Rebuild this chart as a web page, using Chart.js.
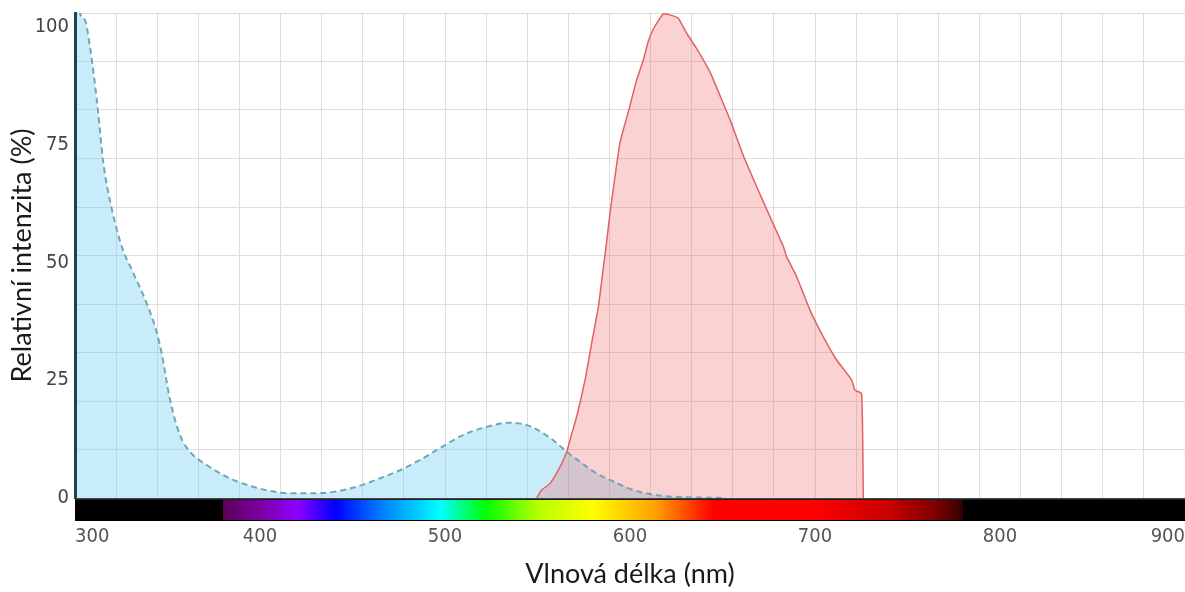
<!DOCTYPE html>
<html><head><meta charset="utf-8">
<script src="https://cdn.jsdelivr.net/npm/chart.js@4/dist/chart.umd.min.js"></script>
<style>html,body{margin:0;padding:0;background:#fff}#wrap{width:1185px;height:592px;position:relative}</style>
</head><body><div id="wrap"><canvas id="c"></canvas></div>
<script>
// Absorption (blue, dashed) spectrum
const blueNm  = [300, 302.7, 305.4, 308.1, 312.4, 315.1, 320, 325.9, 330.8, 339.5, 344.3, 347, 351.4, 356.8, 362.2, 371.2, 382, 392.8, 405.4, 416.2, 428.8, 439.6, 452.3, 464.9, 475.7, 486.5, 497.3, 509.9, 522.5, 535, 542, 548, 554, 560, 565.8, 573, 582, 591, 601.8, 614.4, 630.6, 646.8, 652];
const blueVal = [112, 103, 101.5, 95.8, 82.4, 71.8, 61.2, 52.7, 48.4, 40.6, 35.0, 30.4, 20.8, 13.3, 9.8, 7.0, 4.5, 2.8, 1.5, 1.0, 1.0, 1.3, 2.4, 4.2, 5.9, 8.1, 10.6, 13.4, 15.1, 16.0, 15.7, 14.9, 13.5, 11.8, 9.8, 7.7, 5.2, 3.5, 1.7, 0.6, 0.15, 0.05, 0];
// Emission (red) spectrum
const redNm  = [549.6, 552.2, 556.8, 562.2, 565.8, 568.5, 571.2, 575.7, 579.3, 582.9, 585.2, 587.4, 589.2, 594.6, 599.1, 603.6, 607.2, 609.9, 612.6, 618, 621.6, 626.1, 630.6, 636.1, 643.2, 648.6, 654.1, 661.2, 668.5, 675.7, 682.9, 684.7, 690.1, 697.3, 704.5, 711.7, 719.8, 721.6, 725.2, 726.1];
const redVal = [0, 1.7, 3.1, 6.6, 9.8, 13.7, 17.3, 25.1, 32.9, 40.6, 47.7, 54.5, 60.5, 75.5, 82.0, 88.8, 93.0, 97.0, 99.6, 102.8, 102.6, 101.9, 98.7, 95.4, 90.5, 85.5, 80.3, 72.8, 66.1, 59.7, 53.4, 51.2, 47.0, 39.9, 34.2, 29.3, 25.1, 22.9, 22.2, 0];
// Tick labels
const xTickValues = [300, 400, 500, 600, 700, 800, 900];
const yTickValues = [0, 25, 50, 75, 100];
// Visible spectrum strip
const spectrumNm     = [380, 400, 420, 441, 466, 490, 498, 522, 550, 580, 614, 645, 700, 740, 765, 780];
const spectrumColors = ['#5c0058', '#7a00a0', '#8f00ff', '#0000ff', '#0080ff', '#00e0ff', '#00ffff', '#00ff00', '#b4ff00', '#ffff00', '#ffa000', '#ff0000', '#ff0000', '#c80000', '#800000', '#300000'];

const X_MIN = 300, X_MAX = 900, Y_MIN = 0, Y_MAX = 103;
const X_GRID_DIV = 27, Y_GRID_DIV = 10;
const tickFont = "'Liberation Sans Narrow', 'Arial Narrow', 'DejaVu Sans Condensed', sans-serif";
const titleFont = "Lato, 'Open Sans', sans-serif";

const spectrumBar = {
  id: 'spectrumBar',
  afterDraw(chart) {
    const {ctx, chartArea, scales: {x}} = chart;
    const top = chartArea.bottom, h = 23;
    const l = x.getPixelForValue(X_MIN), r = x.getPixelForValue(X_MAX);
    ctx.save();
    ctx.fillStyle = '#000';
    ctx.fillRect(l, top, r - l, h);
    const first = spectrumNm[0], last = spectrumNm[spectrumNm.length - 1];
    const g0 = x.getPixelForValue(first), g1 = x.getPixelForValue(last);
    const grad = ctx.createLinearGradient(g0, 0, g1, 0);
    spectrumNm.forEach((nm, i) => grad.addColorStop((nm - first) / (last - first), spectrumColors[i]));
    ctx.fillStyle = grad;
    ctx.fillRect(g0, top + 2, g1 - g0, h - 3);
    ctx.fillStyle = 'rgba(80,80,80,0.85)';
    ctx.fillRect(l, top, r - l, 1.5);
    ctx.restore();
  }
};

new Chart(document.getElementById('c'), {
  type: 'line',
  data: {
    datasets: [
      {
        data: redNm.map((v, i) => ({x: v, y: redVal[i]})),
        borderColor: '#e06262', borderWidth: 1.5,
        backgroundColor: 'rgba(240,95,95,0.28)', fill: 'origin',
        tension: 0.15, pointRadius: 0
      },
      {
        data: blueNm.map((v, i) => ({x: v, y: blueVal[i]})),
        borderColor: '#72a6b6', borderWidth: 2, borderDash: [6, 4],
        backgroundColor: 'rgba(110,205,240,0.38)', fill: 'origin',
        cubicInterpolationMode: 'monotone', pointRadius: 0
      }
    ]
  },
  options: {
    responsive: true, maintainAspectRatio: false, animation: false,
    layout: {padding: {top: 13, left: 0, right: 0, bottom: 0}},
    plugins: {legend: {display: false}, tooltip: {enabled: false}, filler: {drawTime: 'beforeDatasetsDraw'}},
    scales: {
      x: {
        type: 'linear', min: X_MIN, max: X_MAX, position: 'bottom',
        afterBuildTicks: s => { s.ticks = xTickValues.map(v => ({value: v})); },
        ticks: {align: 'inner', padding: 27, color: '#555', font: {family: tickFont, size: 20}, maxRotation: 0, autoSkip: false},
        grid: {display: false, drawTicks: false},
        border: {display: false},
        title: {display: true, text: 'Vlnová délka (nm)', color: '#1a1a1a', font: {family: titleFont, size: 27, lineHeight: 1}, padding: {top: 0, bottom: 4}},
        afterFit: s => { s.height = 94; s.paddingLeft = 0; s.paddingRight = 0; }
      },
      xg: {
        type: 'linear', min: X_MIN, max: X_MAX, position: 'top',
        afterBuildTicks: s => { const t = []; for (let i = 0; i <= X_GRID_DIV; i++) t.push({value: X_MIN + i * (X_MAX - X_MIN) / X_GRID_DIV}); s.ticks = t; },
        ticks: {display: false},
        grid: {color: '#dedede', lineWidth: 1, drawTicks: false},
        border: {display: false},
        afterFit: s => { s.height = 0; s.paddingLeft = 0; s.paddingRight = 0; }
      },
      y: {
        type: 'linear', min: Y_MIN, max: Y_MAX, position: 'left',
        afterBuildTicks: s => { s.ticks = yTickValues.map(v => ({value: v})); },
        ticks: {padding: 6, color: '#444', font: {family: tickFont, size: 20}},
        grid: {display: false, drawTicks: false},
        border: {display: true, color: '#1e4350', width: 3, z: 1},
        title: {display: true, text: 'Relativní intenzita (%)', color: '#1a1a1a', font: {family: titleFont, size: 27, lineHeight: 1}, padding: {top: 9, bottom: 0}},
        afterFit: s => { s.width = 75; s.paddingTop = 0; s.paddingBottom = 0; }
      },
      yg: {
        type: 'linear', min: Y_MIN, max: Y_MAX, position: 'right',
        afterBuildTicks: s => { const t = []; for (let i = 0; i <= Y_GRID_DIV; i++) t.push({value: Y_MIN + i * (Y_MAX - Y_MIN) / Y_GRID_DIV}); s.ticks = t; },
        ticks: {display: false},
        grid: {color: '#dedede', lineWidth: 1, drawTicks: false},
        border: {display: false},
        afterFit: s => { s.width = 0; s.paddingTop = 0; s.paddingBottom = 0; }
      }
    }
  },
  plugins: [spectrumBar]
});
</script>
</body></html>
